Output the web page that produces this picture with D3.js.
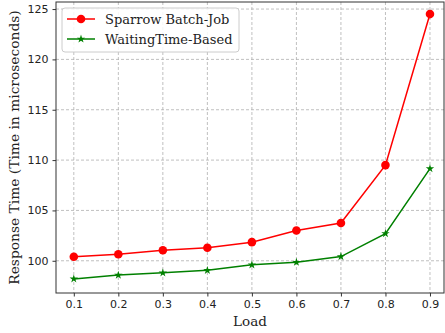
<!DOCTYPE html>
<html>
<head>
<meta charset="utf-8">
<script src="https://cdn.jsdelivr.net/npm/d3@7"></script>
<style>
  body { margin: 0; background: white; }
  .tick text { font-family: "DejaVu Sans", sans-serif; font-size: 11px; fill: #222; }
</style>
</head>
<body>
<div id="container"></div>
<script>
let w = 445;
let h = 333;

// DATA
let loads = [0.1, 0.2, 0.3, 0.4, 0.5, 0.6, 0.7, 0.8, 0.9];
let sparrow = [100.4, 100.65, 101.05, 101.3, 101.85, 103.0, 103.75, 109.5, 124.5];
let waiting = [98.2, 98.58, 98.8, 99.05, 99.6, 99.85, 100.42, 102.7, 109.15];
let yTicks = [100, 105, 110, 115, 120, 125];
let seriesNames = ["Sparrow Batch-Job", "WaitingTime-Based"];

let padL = 56, padR = 444, padT = 2, padB = 293;

let viz = d3.select("#container").append("svg")
    .attr("width", w)
    .attr("height", h)
    .style("background-color", "white");

let xScale = d3.scaleLinear().domain([0.06, 0.9315]).range([padL, padR]);
let yScale = d3.scaleLinear().domain([96.8, 125.7]).range([padB, padT]);

// grid
viz.selectAll(".vgrid").data(loads).enter()
  .append("line")
    .attr("x1", d => xScale(d)).attr("x2", d => xScale(d))
    .attr("y1", padT).attr("y2", padB)
    .attr("stroke", "#b0b0b0").attr("stroke-width", 0.8)
    .attr("stroke-dasharray", "3,2");
viz.selectAll(".hgrid").data(yTicks).enter()
  .append("line")
    .attr("y1", d => yScale(d)).attr("y2", d => yScale(d))
    .attr("x1", padL).attr("x2", padR)
    .attr("stroke", "#b0b0b0").attr("stroke-width", 0.8)
    .attr("stroke-dasharray", "3,2");

// axes
let xAxis = d3.axisBottom(xScale).tickValues(loads).tickFormat(d3.format(".1f")).tickSize(3.5).tickPadding(4);
let yAxis = d3.axisLeft(yScale).tickValues(yTicks).tickSize(3.5).tickPadding(4);
let gx = viz.append("g").attr("transform", "translate(0," + padB + ")").call(xAxis);
let gy = viz.append("g").attr("transform", "translate(" + padL + ",0)").call(yAxis);
gx.select(".domain").remove();
gy.select(".domain").remove();
gx.selectAll(".tick line").attr("stroke", "#333");
gy.selectAll(".tick line").attr("stroke", "#333");

// frame
viz.append("rect")
  .attr("x", padL).attr("y", padT)
  .attr("width", padR - padL).attr("height", padB - padT)
  .attr("fill", "none").attr("stroke", "#333").attr("stroke-width", 1);

// lines
let lineMaker = d3.line().x((d, i) => xScale(loads[i])).y(d => yScale(d));

viz.append("path").datum(sparrow)
  .attr("d", lineMaker).attr("fill", "none")
  .attr("stroke", "#ff0000").attr("stroke-width", 1.5);
viz.selectAll(".redpt").data(sparrow).enter()
  .append("circle")
    .attr("cx", (d, i) => xScale(loads[i]))
    .attr("cy", d => yScale(d))
    .attr("r", 4.3)
    .attr("fill", "#ff0000");

viz.append("path").datum(waiting)
  .attr("d", lineMaker).attr("fill", "none")
  .attr("stroke", "#008000").attr("stroke-width", 1.5);
let star = d3.symbol().type(d3.symbolStar).size(22);
viz.selectAll(".greenpt").data(waiting).enter()
  .append("path")
    .attr("d", star)
    .attr("transform", (d, i) => "translate(" + xScale(loads[i]) + "," + yScale(d) + ")")
    .attr("fill", "#008000");

// labels
viz.append("text")
  .attr("x", (padL + padR) / 2).attr("y", 326)
  .attr("text-anchor", "middle")
  .style("font-family", "'DejaVu Serif', serif").style("font-size", "13.5px").attr("fill", "#222")
  .text("Load");
viz.append("text")
  .attr("transform", "translate(19," + ((padT + padB) / 2) + ") rotate(-90)")
  .attr("text-anchor", "middle")
  .style("font-family", "'DejaVu Serif', serif").style("font-size", "13.8px").attr("fill", "#222")
  .text("Response Time (Time in microseconds)");

// legend
let legend = viz.append("g");
legend.append("rect")
  .attr("x", 62).attr("y", 8).attr("width", 177).attr("height", 44)
  .attr("rx", 3).attr("fill", "white").attr("fill-opacity", 0.85)
  .attr("stroke", "#ccc");
let colors = ["#ff0000", "#008000"];
seriesNames.forEach(function(name, i) {
  let y = 19 + i * 20;
  legend.append("line")
    .attr("x1", 67).attr("x2", 95).attr("y1", y).attr("y2", y)
    .attr("stroke", colors[i]).attr("stroke-width", 1.5);
  if (i == 0) {
    legend.append("circle").attr("cx", 81).attr("cy", y).attr("r", 4.3).attr("fill", colors[i]);
  } else {
    legend.append("path").attr("d", star).attr("transform", "translate(81," + y + ")").attr("fill", colors[i]);
  }
  legend.append("text")
    .attr("x", 105).attr("y", y + 4.5)
    .style("font-family", "'DejaVu Serif', serif").style("font-size", "13px").attr("fill", "#222")
    .text(name);
});
</script>
</body>
</html>
